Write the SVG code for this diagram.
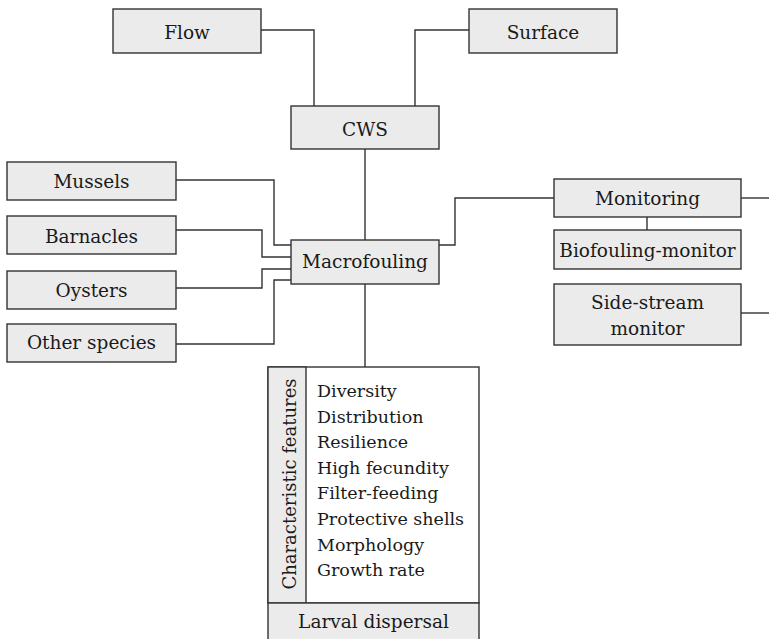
<svg xmlns="http://www.w3.org/2000/svg" width="769" height="639" viewBox="0 0 769 639">
<style>
.box{fill:#ebebeb;stroke:#333;stroke-width:1.4}
.wbox{fill:#fff;stroke:#333;stroke-width:1.4}
.t{font-size:18.5px;fill:#1a1a1a;text-anchor:middle}
.l{font-size:17.5px;fill:#1a1a1a}
.c{fill:none;stroke:#333;stroke-width:1.4}
</style>
<rect width="769" height="639" fill="#fff"/>
<g id="connectors">
<polyline class="c" points="261,30 314,30 314,106"/>
<polyline class="c" points="469,30 415,30 415,106"/>
<line class="c" x1="365" y1="149" x2="365" y2="240"/>
<line class="c" x1="365" y1="284" x2="365" y2="367"/>
<polyline class="c" points="176,180 274,180 274,245 291,245"/>
<polyline class="c" points="176,230 262,230 262,257 291,257"/>
<polyline class="c" points="176,288 262,288 262,269 291,269"/>
<polyline class="c" points="176,344 274,344 274,280 291,280"/>
<polyline class="c" points="439,245 455,245 455,198 554,198"/>
<line class="c" x1="741" y1="198" x2="769" y2="198"/>
<line class="c" x1="647" y1="217" x2="647" y2="230"/>
<line class="c" x1="741" y1="313" x2="769" y2="313"/>
</g>
<g font-family="'DejaVu Serif', serif">
<g id="flow"><rect class="box" x="113" y="9" width="148" height="44"/><text class="t" x="187" y="39">Flow</text></g>
<g id="surface"><rect class="box" x="469" y="9" width="148" height="44"/><text class="t" x="543" y="39">Surface</text></g>
<g id="cws"><rect class="box" x="291" y="106" width="148" height="43"/><text class="t" x="365" y="136">CWS</text></g>
<g id="macrofouling"><rect class="box" x="291" y="240" width="148" height="44"/><text class="t" x="365" y="268">Macrofouling</text></g>
<g id="mussels"><rect class="box" x="7" y="162" width="169" height="38"/><text class="t" x="91.5" y="188">Mussels</text></g>
<g id="barnacles"><rect class="box" x="7" y="216" width="169" height="38"/><text class="t" x="91.5" y="243">Barnacles</text></g>
<g id="oysters"><rect class="box" x="7" y="271" width="169" height="38"/><text class="t" x="91.5" y="297">Oysters</text></g>
<g id="other-species"><rect class="box" x="7" y="324" width="169" height="38"/><text class="t" x="91.5" y="349">Other species</text></g>
<g id="monitoring"><rect class="box" x="554" y="179" width="187" height="38"/><text class="t" x="647.5" y="205">Monitoring</text></g>
<g id="biofouling-monitor"><rect class="box" x="554" y="230" width="187" height="39"/><text class="t" x="647.5" y="257">Biofouling-monitor</text></g>
<g id="side-stream-monitor"><rect class="box" x="554" y="284" width="187" height="61"/><text class="t" x="647.5" y="309">Side-stream</text><text class="t" x="647.5" y="335">monitor</text></g>
<g id="characteristic-features">
<rect class="wbox" x="268" y="367" width="211" height="236"/>
<rect class="box" x="268" y="367" width="38" height="236"/>
<text class="t" style="font-size:18px" transform="translate(296,484) rotate(-90)">Characteristic features</text>
<text class="l" x="317" y="397">Diversity</text>
<text class="l" x="317" y="422.6">Distribution</text>
<text class="l" x="317" y="448.2">Resilience</text>
<text class="l" x="317" y="473.8">High fecundity</text>
<text class="l" x="317" y="499.4">Filter-feeding</text>
<text class="l" x="317" y="525">Protective shells</text>
<text class="l" x="317" y="550.6">Morphology</text>
<text class="l" x="317" y="576">Growth rate</text>
</g>
<g id="larval-dispersal"><rect class="box" x="268" y="603" width="211" height="40"/><text class="t" x="373.5" y="628">Larval dispersal</text></g>
</g>
</svg>
